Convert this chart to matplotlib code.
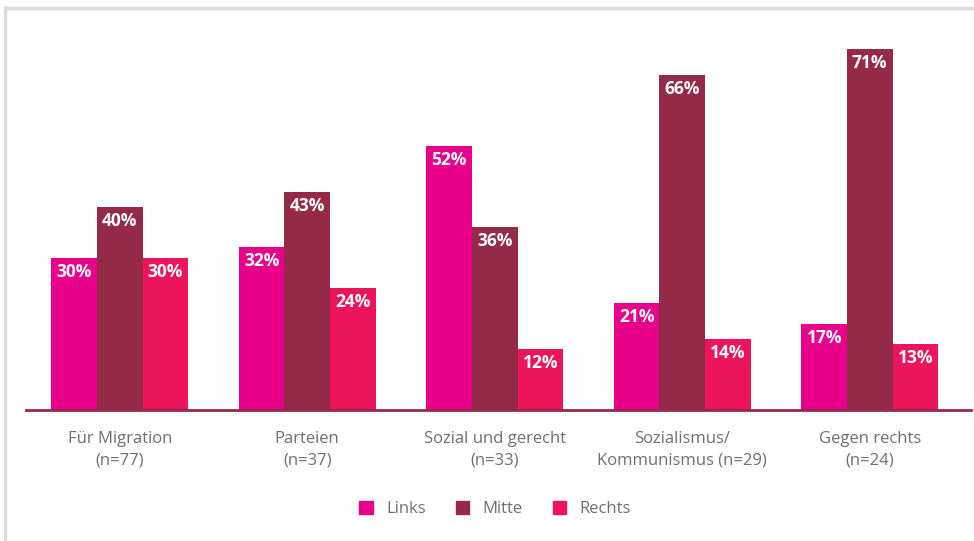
import matplotlib
matplotlib.use("Agg")
import matplotlib.pyplot as plt
from matplotlib.patches import Rectangle
from matplotlib.lines import Line2D
import numpy as np

categories = ["Für Migration\n(n=77)", "Parteien\n(n=37)", "Sozial und gerecht\n(n=33)",
              "Sozialismus/\nKommunismus (n=29)", "Gegen rechts\n(n=24)"]
series = ["Links", "Mitte", "Rechts"]
links = [30, 32, 52, 21, 17]
mitte = [40, 43, 36, 66, 71]
rechts = [30, 24, 12, 14, 13]
colors = ["#e8008a", "#952a48", "#ec145a"]

plt.rcParams["font.family"] = ["Open Sans", "DejaVu Sans"]

fig = plt.figure(figsize=(9.74, 5.41), dpi=100)
ax = fig.add_axes([26 / 974, 1 - 410 / 541, (971 - 26) / 974, (410 - 29) / 541])

x = np.arange(len(categories))
w = 0.243
for i, (name, vals) in enumerate(zip(series, [links, mitte, rechts])):
    pos = x + (i - 1) * w
    bars = ax.bar(pos, vals, width=w, color=colors[i], label=name, zorder=2)
    for b, v in zip(bars, vals):
        ax.annotate(f"{v}%", (b.get_x() + b.get_width() / 2, v), xytext=(0, -14),
                    textcoords="offset pixels", ha="center", va="center",
                    color="white", fontsize=12.5, fontweight="bold")

ax.set_xlim(-0.5, 4.54)
ax.set_ylim(0, 75)
for s in ["top", "right", "left"]:
    ax.spines[s].set_visible(False)
ax.spines["bottom"].set_color("#952a48")
ax.spines["bottom"].set_linewidth(2)
ax.spines["bottom"].set_zorder(3)
ax.set_yticks([])
ax.set_xticks(x)
ax.set_xticklabels(categories, color="#6f6f6f", fontsize=12, linespacing=1.45)
ax.tick_params(axis="x", length=0, pad=15)

# legend
handles = [Rectangle((0, 0), 1, 1, color=c) for c in colors]
leg = fig.legend(handles, series, loc="center", bbox_to_anchor=(495 / 974, 1 - 509 / 541),
                 ncol=3, frameon=False, fontsize=12, handlelength=0.8, handleheight=0.8,
                 handletextpad=0.8, columnspacing=1.8)
for t in leg.get_texts():
    t.set_color("#6f6f6f")

# light frame around the chart
fig.add_artist(Line2D([5 / 974, 5 / 974], [0, 1 - 8 / 541], color="#dcdcdc", lw=2.5))
fig.add_artist(Line2D([5 / 974, 1], [1 - 8 / 541, 1 - 8 / 541], color="#dcdcdc", lw=2.5))

fig.savefig("out.png", dpi=100)
